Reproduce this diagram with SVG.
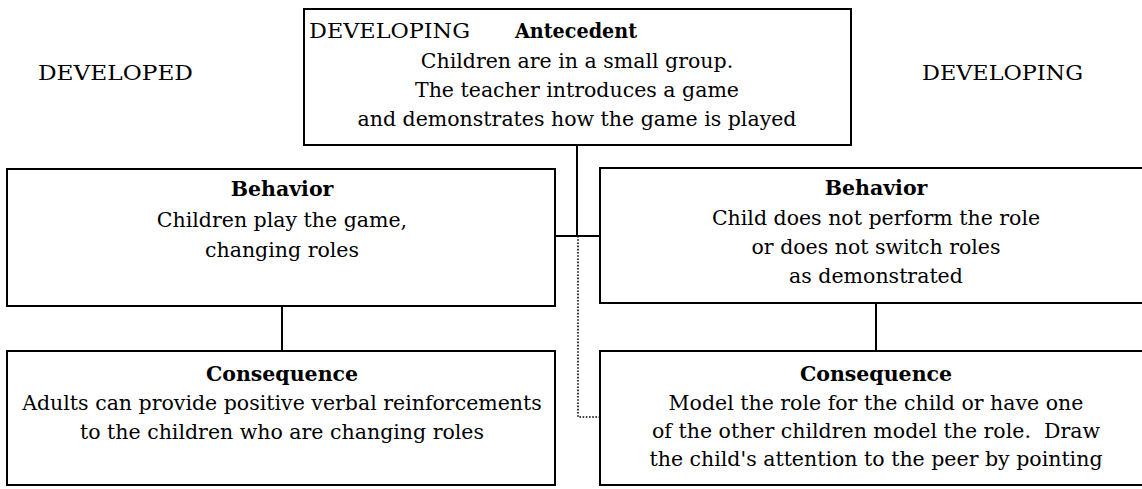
<svg xmlns="http://www.w3.org/2000/svg" width="1142" height="489" viewBox="0 0 1142 489">
<style>
.box{fill:#fff;stroke:#000;stroke-width:2}
.t{font-family:"DejaVu Serif","Liberation Serif",serif;font-size:20.5px;fill:#000}
.c{text-anchor:middle}
.b{font-weight:bold}
.ln{stroke:#000;stroke-width:2;fill:none}
.dot{stroke:#000;stroke-width:1.6;stroke-dasharray:1.6 1.6;fill:none}
</style>
<rect width="1142" height="489" fill="#fff"/>
<g id="connectors">
<line class="ln" x1="577" y1="145" x2="577" y2="236"/>
<line class="ln" x1="555" y1="236" x2="600" y2="236"/>
<polyline class="dot" points="578,236 578,417 600,417"/>
<line class="ln" x1="282" y1="306" x2="282" y2="351"/>
<line class="ln" x1="876" y1="303" x2="876" y2="351"/>
</g>
<g id="label-developed"><text class="t" x="38" y="80" textLength="155" lengthAdjust="spacingAndGlyphs">DEVELOPED</text></g>
<g id="label-developing"><text class="t" x="922" y="80" textLength="161" lengthAdjust="spacingAndGlyphs">DEVELOPING</text></g>
<g id="antecedent">
<rect class="box" x="304" y="9" width="547" height="136"/>
<text class="t" x="309" y="38" textLength="161" lengthAdjust="spacingAndGlyphs">DEVELOPING</text>
<text class="t b" x="515" y="38" textLength="122" lengthAdjust="spacingAndGlyphs">Antecedent</text>
<text class="t c" x="577" y="68">Children are in a small group.</text>
<text class="t c" x="577" y="97">The teacher introduces a game</text>
<text class="t c" x="577" y="126">and demonstrates how the game is played</text>
</g>
<g id="behavior-developed">
<rect class="box" x="7" y="169" width="548" height="137"/>
<text class="t b c" x="282" y="196">Behavior</text>
<text class="t c" x="282" y="227">Children play the game,</text>
<text class="t c" x="282" y="257">changing roles</text>
</g>
<g id="behavior-developing">
<rect class="box" x="600" y="168" width="560" height="135"/>
<text class="t b c" x="876" y="195">Behavior</text>
<text class="t c" x="876" y="225">Child does not perform the role</text>
<text class="t c" x="876" y="254">or does not switch roles</text>
<text class="t c" x="876" y="283">as demonstrated</text>
</g>
<g id="consequence-developed">
<rect class="box" x="7" y="351" width="548" height="134"/>
<text class="t b c" x="282" y="381">Consequence</text>
<text class="t c" x="282" y="410">Adults can provide positive verbal reinforcements</text>
<text class="t c" x="282" y="439">to the children who are changing roles</text>
</g>
<g id="consequence-developing">
<rect class="box" x="600" y="351" width="560" height="134"/>
<text class="t b c" x="876" y="381">Consequence</text>
<text class="t c" x="876" y="410">Model the role for the child or have one</text>
<text class="t c" x="876" y="438">of the other children model the role.&#160; Draw</text>
<text class="t c" x="876" y="466">the child's attention to the peer by pointing</text>
</g>
</svg>
